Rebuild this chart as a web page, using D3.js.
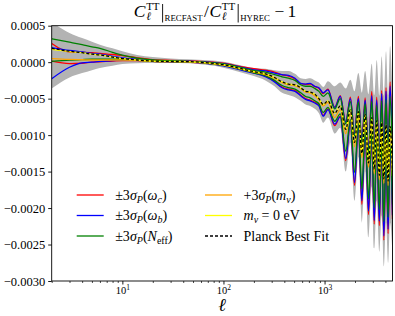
<!DOCTYPE html>
<html><head><meta charset="utf-8">
<script src="https://cdn.jsdelivr.net/npm/d3@7"></script>
<style>
body{margin:0;background:#fff}
svg{display:block}
text{font-family:"Liberation Serif","Times New Roman",serif;fill:#000}
</style>
</head><body>
<svg id="chart" width="395" height="316"></svg>
<script>
// multipole grid (explicit sample points)
const ell = [2,3,4,5,6,8,10,14,20,30,45,70,100,150,200,260,320,380,440,510,580,650,720,800,880,970,1080,1260,1430,1620,1800,1980,2160,2340,2520,2720,2930,3100,3280,3480,3675,3860,4055,4250,4445,4700];

// gray envelope
const bandUpper = [5.5e-4,4.0e-4,3.3e-4,2.8e-4,2.4e-4,1.9e-4,1.5e-4,1.0e-4,0.7e-4,0.5e-4,0.4e-4,0.25e-4,0.05e-4,-0.45e-4,-0.8e-4,-0.9e-4,-1.1e-4,-1.2e-4,-1.2e-4,-1.6e-4,-2.2e-4,-2.3e-4,-2.2e-4,-2.5e-4,-2.8e-4,-3.4e-4,-2.6e-4,-3.3e-4,-2.8e-4,-3.6e-4,-2.4e-4,-4.0e-4,-1.5e-4,-4.2e-4,-1.2e-4,-4.4e-4,-0.2e-4,-4.5e-4,0.3e-4,-4.6e-4,0.8e-4,-4.6e-4,1.5e-4,-4.5e-4,2.2e-4,-4.0e-4];
const bandLower = [-3.6e-4,-2.1e-4,-1.5e-4,-1.1e-4,-0.8e-4,-0.5e-4,-0.25e-4,-0.15e-4,-0.12e-4,-0.12e-4,-0.15e-4,-0.4e-4,-0.75e-4,-1.4e-4,-1.9e-4,-2.5e-4,-3.3e-4,-4.2e-4,-4.5e-4,-4.8e-4,-5.3e-4,-5.8e-4,-6.0e-4,-6.4e-4,-7.0e-4,-8.3e-4,-7.6e-4,-9.8e-4,-9.0e-4,-15.0e-4,-11.0e-4,-19.0e-4,-13.0e-4,-22.0e-4,-15.0e-4,-24.0e-4,-17.0e-4,-25.5e-4,-19.0e-4,-26.0e-4,-21.0e-4,-28.0e-4,-22.0e-4,-27.5e-4,-22.0e-4,-26.0e-4];

// +/- 3 sigma omega_c (red)
const omegaCPlus = [2.56e-4,1.4e-4,1.35e-4,1.3e-4,1.2e-4,1.05e-4,0.9e-4,0.6e-4,0.35e-4,0.25e-4,0.18e-4,0.05e-4,-0.15e-4,-0.6e-4,-0.9e-4,-1.1e-4,-1.35e-4,-1.75e-4,-1.9e-4,-2.3e-4,-2.95e-4,-3.05e-4,-3.0e-4,-3.35e-4,-3.6e-4,-4.3e-4,-3.7e-4,-6.2e-4,-4.6e-4,-8.2e-4,-4.8e-4,-9.8e-4,-4.7e-4,-11.1e-4,-4.9e-4,-12.2e-4,-4.0e-4,-12.9e-4,-4.8e-4,-13.5e-4,-3.9e-4,-13.8e-4,-3.5e-4,-13.9e-4,-2.7e-4,-12.5e-4];
const omegaCMinus = [0.14e-4,-0.2e-4,-0.15e-4,0.0,0.05e-4,0.15e-4,0.2e-4,0.2e-4,0.1e-4,0.05e-4,0.0,-0.15e-4,-0.45e-4,-1.0e-4,-1.45e-4,-1.9e-4,-2.6e-4,-3.4e-4,-3.7e-4,-3.9e-4,-4.5e-4,-5.0e-4,-5.2e-4,-5.5e-4,-5.9e-4,-7.3e-4,-6.4e-4,-8.7e-4,-7.4e-4,-13.5e-4,-8.2e-4,-16.9e-4,-8.7e-4,-19.5e-4,-9.3e-4,-20.9e-4,-9.9e-4,-22.2e-4,-10.5e-4,-22.4e-4,-11.0e-4,-24.4e-4,-11.5e-4,-23.5e-4,-11.9e-4,-21.5e-4];

// +/- 3 sigma omega_b (blue)
const omegaBPlus = [2.0e-4,1.6e-4,1.4e-4,1.2e-4,1.1e-4,0.8e-4,0.6e-4,0.4e-4,0.25e-4,0.2e-4,0.15e-4,0.0,-0.2e-4,-0.7e-4,-1.05e-4,-1.2e-4,-1.5e-4,-1.7e-4,-1.8e-4,-2.2e-4,-2.9e-4,-3.0e-4,-2.9e-4,-3.3e-4,-3.5e-4,-4.2e-4,-3.8e-4,-6.2e-4,-4.7e-4,-8.2e-4,-5.0e-4,-9.8e-4,-5.0e-4,-11.1e-4,-5.2e-4,-12.2e-4,-4.6e-4,-12.9e-4,-5.2e-4,-13.5e-4,-4.3e-4,-13.8e-4,-4.0e-4,-13.9e-4,-3.3e-4,-12.5e-4];
const omegaBMinus = [-2.27e-4,-0.7e-4,-0.1e-4,0.0,0.1e-4,0.2e-4,0.3e-4,0.25e-4,0.1e-4,0.05e-4,0.0,-0.2e-4,-0.5e-4,-1.1e-4,-1.5e-4,-2.0e-4,-2.7e-4,-3.5e-4,-3.8e-4,-4.0e-4,-4.6e-4,-5.1e-4,-5.3e-4,-5.6e-4,-6.0e-4,-7.4e-4,-6.5e-4,-8.5e-4,-7.5e-4,-13.2e-4,-8.3e-4,-16.5e-4,-8.8e-4,-19.0e-4,-9.4e-4,-20.4e-4,-10.0e-4,-21.7e-4,-10.6e-4,-21.8e-4,-11.1e-4,-23.8e-4,-11.6e-4,-22.9e-4,-12.0e-4,-21.0e-4];

// +/- 3 sigma N_eff (green)
const nEffPlus = [3.2e-4,2.74e-4,2.4e-4,2.1e-4,1.9e-4,1.35e-4,0.95e-4,0.55e-4,0.3e-4,0.2e-4,0.12e-4,-0.03e-4,-0.25e-4,-0.75e-4,-1.15e-4,-1.35e-4,-1.7e-4,-2.0e-4,-2.2e-4,-2.5e-4,-3.1e-4,-3.3e-4,-3.3e-4,-3.6e-4,-4.0e-4,-4.7e-4,-4.2e-4,-6.4e-4,-5.0e-4,-8.45e-4,-5.4e-4,-10.1e-4,-5.45e-4,-11.45e-4,-5.7e-4,-12.6e-4,-5.35e-4,-13.35e-4,-5.9e-4,-14.0e-4,-5.3e-4,-14.35e-4,-5.15e-4,-14.5e-4,-4.7e-4,-13.1e-4];
const nEffMinus = [0.1e-4,0.27e-4,0.35e-4,0.4e-4,0.4e-4,0.4e-4,0.4e-4,0.3e-4,0.12e-4,0.07e-4,0.03e-4,-0.15e-4,-0.45e-4,-1.0e-4,-1.45e-4,-1.85e-4,-2.5e-4,-3.2e-4,-3.5e-4,-3.7e-4,-4.2e-4,-4.7e-4,-4.9e-4,-5.3e-4,-5.7e-4,-6.9e-4,-6.2e-4,-8.1e-4,-7.1e-4,-12.2e-4,-7.85e-4,-15.1e-4,-8.3e-4,-17.4e-4,-8.85e-4,-18.75e-4,-9.4e-4,-19.95e-4,-9.95e-4,-20.2e-4,-10.4e-4,-21.85e-4,-10.85e-4,-21.25e-4,-11.2e-4,-19.5e-4];

// +3 sigma m_nu (orange)
const mNuPlus = [0.5e-4,0.37e-4,0.33e-4,0.3e-4,0.3e-4,0.3e-4,0.3e-4,0.25e-4,0.12e-4,0.08e-4,0.05e-4,-0.12e-4,-0.4e-4,-0.95e-4,-1.35e-4,-1.7e-4,-2.2e-4,-2.8e-4,-3.1e-4,-3.2e-4,-3.6e-4,-4.1e-4,-4.2e-4,-4.6e-4,-5.2e-4,-6.0e-4,-5.5e-4,-7.6e-4,-6.5e-4,-9.8e-4,-7.0e-4,-11.6e-4,-7.3e-4,-13.1e-4,-7.7e-4,-14.4e-4,-8.1e-4,-15.3e-4,-8.5e-4,-16.1e-4,-8.8e-4,-16.6e-4,-9.1e-4,-16.9e-4,-9.3e-4,-15.6e-4];

// m_nu = 0 eV (yellow)
const mNuZero = [1.75e-4,1.45e-4,1.3e-4,1.1e-4,1.0e-4,0.7e-4,0.5e-4,0.3e-4,0.15e-4,0.1e-4,0.08e-4,-0.1e-4,-0.35e-4,-0.9e-4,-1.3e-4,-1.6e-4,-2.1e-4,-2.7e-4,-3.0e-4,-3.1e-4,-3.5e-4,-4.0e-4,-4.1e-4,-4.4e-4,-5.0e-4,-5.8e-4,-5.3e-4,-7.0e-4,-6.0e-4,-9.2e-4,-6.5e-4,-11.0e-4,-6.8e-4,-12.5e-4,-7.2e-4,-13.8e-4,-7.6e-4,-14.7e-4,-8.0e-4,-15.5e-4,-8.3e-4,-16.0e-4,-8.6e-4,-16.3e-4,-8.8e-4,-15.0e-4];

// Planck best fit (black dashed)
const planckBestFit = [1.9e-4,1.5e-4,1.3e-4,1.1e-4,1.0e-4,0.7e-4,0.5e-4,0.3e-4,0.15e-4,0.1e-4,0.08e-4,-0.1e-4,-0.35e-4,-0.9e-4,-1.3e-4,-1.6e-4,-2.1e-4,-2.7e-4,-3.0e-4,-3.1e-4,-3.5e-4,-4.0e-4,-4.1e-4,-4.4e-4,-5.0e-4,-5.8e-4,-5.3e-4,-7.0e-4,-6.0e-4,-9.2e-4,-6.5e-4,-11.0e-4,-6.8e-4,-12.5e-4,-7.2e-4,-13.8e-4,-7.6e-4,-14.7e-4,-8.0e-4,-15.5e-4,-8.3e-4,-16.0e-4,-8.6e-4,-16.3e-4,-8.8e-4,-15.0e-4];

// ticks
const yTicks = [0.0005,0,-0.0005,-0.001,-0.0015,-0.002,-0.0025,-0.003];
const xMajorTicks = [10,100,1000];
const xTickExponents = ["1","2","3"];
const xMinorTicks = [2,3,4,5,6,7,8,9,20,30,40,50,60,70,80,90,200,300,400,500,600,700,800,900,2000,3000,4000];

const SERIF = '"Liberation Serif","Times New Roman",serif';
const L = 51.7, R = 392.5, T = 25.7, B = 281;
const x = d3.scaleLog().domain([2,4700]).range([L,R]);
const y = d3.scaleLinear().domain([-0.003,0.0005]).range([B,T]);

const svg = d3.select("#chart");
svg.append("rect").attr("width",395).attr("height",316).attr("fill","#fff");
svg.append("defs").append("clipPath").attr("id","clip")
  .append("rect").attr("x",L).attr("y",T).attr("width",R-L).attr("height",B-T);
const plot = svg.append("g").attr("clip-path","url(#clip)");

const area = d3.area()
  .x((d,i)=>x(ell[i])).y0((d,i)=>y(bandLower[i])).y1((d,i)=>y(bandUpper[i]))
  .curve(d3.curveMonotoneX);
plot.append("path").datum(ell).attr("d",area).attr("fill","#b3b3b3");

const series = [
  {vals: omegaCPlus, color:"#ff0000"},
  {vals: omegaCMinus, color:"#ff0000"},
  {vals: omegaBPlus, color:"#0000ff"},
  {vals: omegaBMinus, color:"#0000ff"},
  {vals: nEffPlus, color:"#008000"},
  {vals: nEffMinus, color:"#008000"},
  {vals: mNuPlus, color:"#ffa500"},
  {vals: mNuZero, color:"#ffff00"},
  {vals: planckBestFit, color:"#000000", dash:"3,2"}
];
series.forEach(s => {
  const ln = d3.line().x((d,i)=>x(ell[i])).y((d,i)=>y(s.vals[i])).curve(d3.curveMonotoneX);
  plot.append("path").datum(ell).attr("d",ln).attr("fill","none")
    .attr("stroke",s.color).attr("stroke-width",1.3)
    .attr("stroke-dasharray",s.dash||null);
});

// frame
svg.append("rect").attr("x",L).attr("y",T).attr("width",R-L).attr("height",B-T)
  .attr("fill","none").attr("stroke","#000").attr("stroke-width",0.9);

// y axis
const gy = svg.append("g").attr("transform",`translate(${L},0)`)
  .call(d3.axisLeft(y).tickValues(yTicks).tickFormat(d3.format(".4f")).tickSize(3.5).tickSizeOuter(0).tickPadding(3));
gy.attr("font-family",null);
gy.select(".domain").remove();
gy.selectAll("text").style("font-family",SERIF).attr("font-size",12.5);
gy.selectAll("line").attr("stroke-width",0.9);

// x axis minor
const gxm = svg.append("g").attr("transform",`translate(0,${B})`)
  .call(d3.axisBottom(x).tickValues(xMinorTicks).tickFormat("").tickSize(2).tickSizeOuter(0));
gxm.select(".domain").remove();
gxm.selectAll("line").attr("stroke-width",0.7);
// x axis major
const gx = svg.append("g").attr("transform",`translate(0,${B})`)
  .call(d3.axisBottom(x).tickValues(xMajorTicks).tickFormat("").tickSize(3.5).tickSizeOuter(0).tickPadding(2.5));
gx.attr("font-family",null);
gx.select(".domain").remove();
gx.selectAll("line").attr("stroke-width",0.9);
gx.selectAll(".tick text").each(function(d,i){
  const t = d3.select(this).style("font-family",SERIF).attr("font-size",10.5);
  t.append("tspan").text("10");
  t.append("tspan").attr("dy",-4).attr("font-size",7.5).text(xTickExponents[i]);
});

// x label
svg.append("text").attr("x",(L+R)/2).attr("y",311).attr("text-anchor","middle")
  .attr("font-size",18).attr("font-style","italic").text("ℓ");

// title
const tg = svg.append("g");
let cx = 0; const by = 16.5;
function put(str,size,dy,italic){
  const t = tg.append("text").attr("x",cx).attr("y",by+dy).attr("font-size",size)
    .attr("font-style",italic?"italic":"normal").text(str);
  return t.node().getComputedTextLength();
}
function cTT(){
  cx += put("C",17.5,0,true) + 0.6;
  const w1 = put("TT",11,-7,false);
  const w2 = put("ℓ",11.5,3.8,true);
  cx += Math.max(w1,w2) + 2;
}
function bar(sub){
  tg.append("line").attr("x1",cx+1).attr("x2",cx+1).attr("y1",by-12.5).attr("y2",by+6)
    .attr("stroke","#000").attr("stroke-width",0.9);
  cx += 3;
  cx += put(sub,8.8,4.5,false) + 1.5;
}
cTT(); bar("RECFAST");
cx += put("/",17.5,0,false) + 0.5;
cTT(); bar("HYREC");
cx += 3;
cx += put("−",17.5,0,false) + 3;
cx += put("1",17.5,0,false);
tg.attr("transform",`translate(${215 - cx/2},0)`);

// legend
const legendItems = [
  {col:0,row:0,color:"#ff0000",parts:[["±3",0,0],["σ",0,1],["P",1,1],["(",0,0],["ω",0,1],["c",1,1],[")",0,0]]},
  {col:0,row:1,color:"#0000ff",parts:[["±3",0,0],["σ",0,1],["P",1,1],["(",0,0],["ω",0,1],["b",1,1],[")",0,0]]},
  {col:0,row:2,color:"#008000",parts:[["±3",0,0],["σ",0,1],["P",1,1],["(",0,0],["N",0,1],["eff",1,0],[")",0,0]]},
  {col:1,row:0,color:"#ffa500",parts:[["+3",0,0],["σ",0,1],["P",1,1],["(",0,0],["m",0,1],["ν",1,1],[")",0,0]]},
  {col:1,row:1,color:"#ffff00",parts:[["m",0,1],["ν",1,1],[" = 0 eV",0,0]]},
  {col:1,row:2,color:"#000000",dash:"3,2",parts:[["Planck Best Fit",0,0]]}
];
const colX = [76.7, 205];
const rowY = [195, 215.5, 236];
legendItems.forEach(it => {
  const lx = colX[it.col], ly = rowY[it.row];
  svg.append("line").attr("x1",lx).attr("x2",lx+27).attr("y1",ly).attr("y2",ly)
    .attr("stroke",it.color).attr("stroke-width",1.3).attr("stroke-dasharray",it.dash||null);
  const t = svg.append("text").attr("x",lx+38.5).attr("y",ly+4.5).attr("font-size",14);
  let sub = false;
  it.parts.forEach(p => {
    const ts = t.append("tspan").text(p[0]).attr("font-style",p[2]?"italic":"normal");
    if (p[1] && !sub) { ts.attr("dy",3).attr("font-size",10); sub = true; }
    else if (p[1] && sub) { ts.attr("font-size",10); }
    else if (!p[1] && sub) { ts.attr("dy",-3); sub = false; }
  });
});
</script>
</body></html>
